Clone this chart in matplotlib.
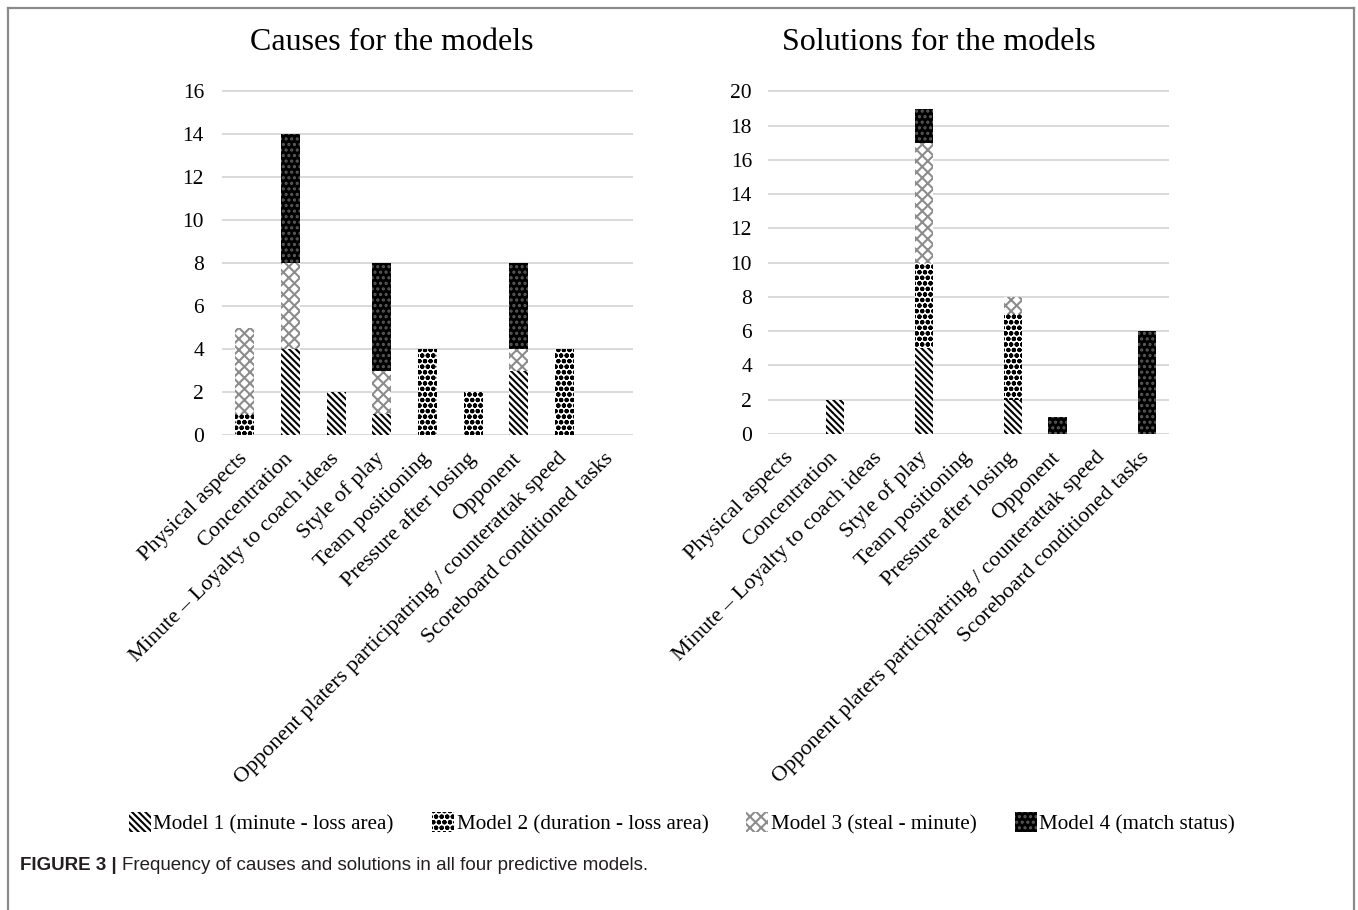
import matplotlib
matplotlib.use("Agg")
import matplotlib.pyplot as plt
import numpy as np
from matplotlib.lines import Line2D

categories = [
    "Physical aspects",
    "Concentration",
    "Minute – Loyalty to coach ideas",
    "Style of play",
    "Team positioning",
    "Pressure after losing",
    "Opponent",
    "Opponent platers participatring / counterattak speed",
    "Scoreboard conditioned tasks",
]

model_labels = [
    "Model 1 (minute - loss area)",
    "Model 2 (duration - loss area)",
    "Model 3 (steal - minute)",
    "Model 4 (match status)",
]

causes_m1 = [0, 4, 2, 1, 0, 0, 3, 0, 0]
causes_m2 = [1, 0, 0, 0, 4, 2, 0, 4, 0]
causes_m3 = [4, 4, 0, 2, 0, 0, 1, 0, 0]
causes_m4 = [0, 6, 0, 5, 0, 0, 4, 0, 0]

solutions_m1 = [0, 2, 0, 5, 0, 2, 0, 0, 0]
solutions_m2 = [0, 0, 0, 5, 0, 5, 0, 0, 0]
solutions_m3 = [0, 0, 0, 7, 0, 1, 0, 0, 0]
solutions_m4 = [0, 0, 0, 2, 0, 0, 1, 0, 6]

causes_ticks = [0, 2, 4, 6, 8, 10, 12, 14, 16]
solutions_ticks = [0, 2, 4, 6, 8, 10, 12, 14, 16, 18, 20]

SERIF = ["Liberation Serif", "DejaVu Serif"]
SANS = ["Liberation Sans", "DejaVu Sans"]

plt.rcParams["hatch.linewidth"] = 1.5

# fill style per model: face colour, hatch colour, hatch pattern
styles = [
    dict(facecolor="white", edgecolor="black", hatch="\\" * 5),
    dict(facecolor="white", edgecolor="black", hatch="ooo"),
    dict(facecolor="white", edgecolor="#8c8c8c", hatch="xxx"),
    dict(facecolor="black", edgecolor="#5a5a5a", hatch="..."),
]

fig = plt.figure(figsize=(13.58, 9.10), dpi=100)
fig.patch.set_facecolor("white")


def draw_panel(ax, series, ticks, ymax, width, ypad):
    x = np.arange(len(categories))
    bottom = np.zeros(len(categories))
    for vals, st in zip(series, styles):
        vals = np.asarray(vals, dtype=float)
        ax.bar(x, vals, width, bottom=bottom, linewidth=0, zorder=3, **st)
        bottom += vals
    ax.set_xlim(-0.5, len(categories) - 0.5)
    ax.set_ylim(0, ymax * 1.004)
    ax.set_yticks(ticks)
    ax.set_yticklabels([str(t) for t in ticks], family=SERIF, fontsize=15.5)
    ax.set_xticks(x)
    ax.set_xticklabels(categories, family=SERIF, fontsize=16, rotation=45,
                       ha="right", va="center", rotation_mode="anchor")
    ax.tick_params(axis="y", length=0, pad=ypad)
    ax.tick_params(axis="x", length=0, pad=15)
    for s in ax.spines.values():
        s.set_visible(False)
    ax.yaxis.grid(True, color="#d9d9d9", linewidth=1.4, zorder=0)
    ax.set_axisbelow(True)


ax1 = fig.add_axes([222 / 1358, 1 - 435 / 910, 411 / 1358, 345 / 910])
draw_panel(ax1, [causes_m1, causes_m2, causes_m3, causes_m4],
           causes_ticks, 16, 0.42, 13)

ax2 = fig.add_axes([768 / 1358, 1 - 434 / 910, 401 / 1358, 344 / 910])
draw_panel(ax2, [solutions_m1, solutions_m2, solutions_m3, solutions_m4],
           solutions_ticks, 20, 0.41, 11.5)

fig.text(392 / 1358, 1 - 42 / 910, "Causes for the models", family=SERIF,
         fontsize=23, ha="center", va="center")
fig.text(939 / 1358, 1 - 42 / 910, "Solutions for the models", family=SERIF,
         fontsize=23, ha="center", va="center")

# legend
handles = [matplotlib.patches.Patch(linewidth=0, **st) for st in styles]
fig.legend(handles, model_labels, loc="center", ncol=4,
           bbox_to_anchor=(682 / 1358, 1 - 823 / 910), frameon=False,
           prop=dict(family=SERIF, size=15.2), handlelength=1.05,
           handleheight=1.1, handletextpad=0.12, columnspacing=1.8)

# frame around the chart
for xs, ys in [((8, 8), (0, 902)), ((8, 1354), (902, 902)),
               ((1354, 1354), (902, 0))]:
    fig.add_artist(Line2D([x / 1358 for x in xs], [y / 910 for y in ys],
                          color="#8a8a8a", linewidth=1.6))

# caption
renderer = fig.canvas.get_renderer()
t1 = fig.text(20 / 1358, 1 - 866 / 910, "FIGURE 3 |", family=SANS,
              fontweight="bold", fontsize=13.5, ha="left", va="center",
              color="#231f20")
bb = t1.get_window_extent(renderer)
fig.text((bb.x1 + 5) / 1358, 1 - 866 / 910,
         "Frequency of causes and solutions in all four predictive models.",
         family=SANS, fontsize=13.5, ha="left", va="center", color="#231f20")

fig.savefig("out.png", dpi=100, facecolor="white")
